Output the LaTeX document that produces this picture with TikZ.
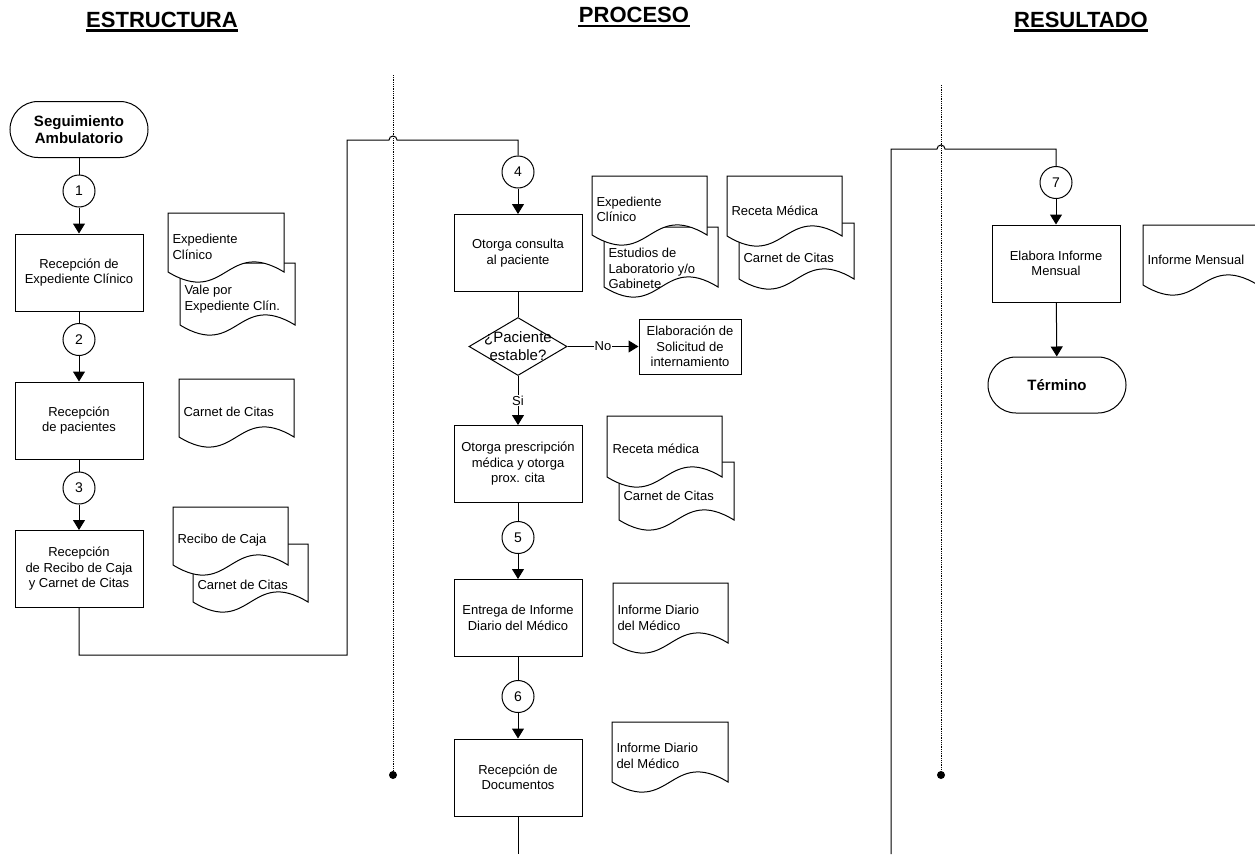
\documentclass[tikz,border=0pt]{standalone}
\usepackage{fontspec}
\setmainfont{Liberation Sans}
\usetikzlibrary{arrows.meta,shapes.geometric}

\newcommand{\papel}[4]{\draw[fill=white] (#1,#2) -- (#1+#3,#2) -- (#1+#3,#2+#4)
  .. controls (#1+#3/2,#2+#4-35) and (#1+#3/2,#2+#4+35) .. (#1,#2+#4) -- cycle;}

\begin{document}
\begin{tikzpicture}[x=1pt,y=-1pt,line width=1pt]
\tikzstyle{every node}=[font=\fontsize{13}{15.5}\selectfont, align=center]
\tikzstyle{head}=[font=\fontsize{22}{26}\selectfont\bfseries, inner sep=0pt, anchor=base]
\tikzstyle{proc}=[draw, minimum width=128, minimum height=77]
\tikzstyle{conn}=[draw, circle, minimum size=32, inner sep=0pt, font=\fontsize{14}{16}\selectfont]
\tikzstyle{term}=[draw, rounded corners=28, minimum width=138, minimum height=56, font=\fontsize{15}{17}\selectfont\bfseries]
\tikzstyle{dec}=[draw, diamond, minimum width=98, minimum height=58, inner sep=0pt]
\tikzstyle{txt}=[align=left, anchor=west, inner sep=0pt]
\tikzstyle{lbl}=[fill=white, inner sep=1pt]
\tikzstyle{flow}=[-{Triangle[width=12pt,length=10pt]}]
\tikzstyle{lane}=[densely dotted, line width=0.8pt]
\tikzstyle{dot}=[circle, fill, inner sep=0pt, minimum size=8]
\clip (0,0) rectangle (1255,854);
\draw (162,27) node (h1) [head] {ESTRUCTURA};
\draw (634,22.5) node (h2) [head] {PROCESO};
\draw (1081,27) node (h3) [head] {RESULTADO};
\foreach \h in {h1,h2,h3}
  \draw[line width=2.7pt] ([yshift=-3.5pt]\h.base west) -- ([yshift=-3.5pt]\h.base east);
\coordinate (l1) at (393,75);
\coordinate (l2) at (941,85);
\draw (393,775) node (e1) [dot] {};
\draw (941,775) node (e2) [dot] {};
\draw[lane] (l1) -- (e1);
\draw[lane] (l2) -- (e2);
\draw (79,129.5) node (s1) [term] {Seguimiento\\Ambulatorio};
\draw (79,191) node (c1) [conn] {1};
\draw (79,272.5) node (b1) [proc] {Recepción de\\Expediente Clínico};
\draw (79,339.5) node (c2) [conn] {2};
\draw (79,420.5) node (b2) [proc] {Recepción\\de pacientes};
\draw (79,488) node (c3) [conn] {3};
\draw (79,569) node (b3) [proc] {Recepción\\de Recibo de Caja\\y Carnet de Citas};
\draw (s1) -- (c1);
\draw[flow] (c1) -- (b1);
\draw (b1) -- (c2);
\draw[flow] (c2) -- (b2);
\draw (b2) -- (c3);
\draw[flow] (c3) -- (b3);
\papel{180}{263}{115}{62}
\papel{168}{213}{116}{59}
\draw (172,247) node (p1) [txt] {Expediente\\Clínico};
\draw (184,299) node (p2) [txt] {Vale por\\Expediente Clín.};
\papel{179}{379}{115}{58}
\draw (183,412) node (p3) [txt] {Carnet de Citas};
\papel{193}{544}{115}{58}
\papel{173}{507}{115}{58}
\draw (177,540) node (p4) [txt] {Recibo de Caja};
\draw (197,585) node (p5) [txt] {Carnet de Citas};
\draw (518,172) node (c4) [conn] {4};
\draw (518,253) node (b4) [proc] {Otorga consulta\\al paciente};
\draw (518,346.5) node (d1) [dec] {};
\draw (518,346) node (q1) [font=\fontsize{15}{18}\selectfont] {¿Paciente\\estable?};
\draw (690,346.5) node (b5) [draw, minimum width=102, minimum height=55] {Elaboración de\\Solicitud de\\internamiento};
\draw (518,464) node (b6) [proc] {Otorga prescripción\\médica y otorga\\prox. cita};
\draw (518,537.5) node (c5) [conn] {5};
\draw (518,618) node (b7) [proc] {Entrega de Informe\\Diario del Médico};
\draw (518,696.5) node (c6) [conn] {6};
\draw (518,777.5) node (b8) [proc] {Recepción de\\Documentos};
\coordinate (k3) at (518,854);
\draw[flow] (c4) -- (b4);
\draw (b4) -- (d1);
\draw[flow] (d1) -- node[lbl] {No} (b5);
\draw[flow] (d1) -- node[lbl] {Si} (b6);
\draw (b6) -- (c5);
\draw[flow] (c5) -- (b7);
\draw (b7) -- (c6);
\draw[flow] (c6) -- (b8);
\draw (b8) -- (k3);
\papel{604}{227}{114}{60}
\papel{592}{176}{115}{59}
\draw (596,209.5) node (p6) [txt] {Expediente\\Clínico};
\draw (608,268.5) node (p7) [txt] {Estudios de\\Laboratorio y/o\\Gabinete};
\papel{739}{223}{115}{56}
\papel{727}{176}{115}{60}
\draw (731,211) node (p8) [txt] {Receta Médica};
\draw (743,258) node (p9) [txt] {Carnet de Citas};
\papel{619}{462}{115}{58}
\papel{607}{416}{115}{61}
\draw (612,449) node (p10) [txt] {Receta médica};
\draw (623,496) node (p11) [txt] {Carnet de Citas};
\papel{613}{583}{115}{60}
\draw (617,618) node (p12) [txt] {Informe Diario\\del Médico};
\papel{612}{722}{116}{60}
\draw (616,756) node (p13) [txt] {Informe Diario\\del Médico};
\draw (1056,182.5) node (c7) [conn] {7};
\draw (1056,263.5) node (b9) [proc] {Elabora Informe\\Mensual};
\draw (1057,385) node (t1) [term] {Término};
\draw[flow] (c7) -- (b9);
\draw[flow] (b9) -- (t1);
\papel{1143}{225}{115}{60}
\draw (1147,260) node (p14) [txt] {Informe Mensual};
\coordinate (k1) at (347,655);
\coordinate (k2) at (347,140);
\coordinate (k7) at (389,140);
\draw (b3) |- (k1) -- (k2) -- (k7) arc (180:360:4) -| (c4);
\coordinate (k4) at (891,854);
\coordinate (k5) at (891,149);
\coordinate (k6) at (937,149);
\draw (k4) -- (k5) -- (k6) arc (180:360:4) -| (c7);
\end{tikzpicture}
\end{document}
